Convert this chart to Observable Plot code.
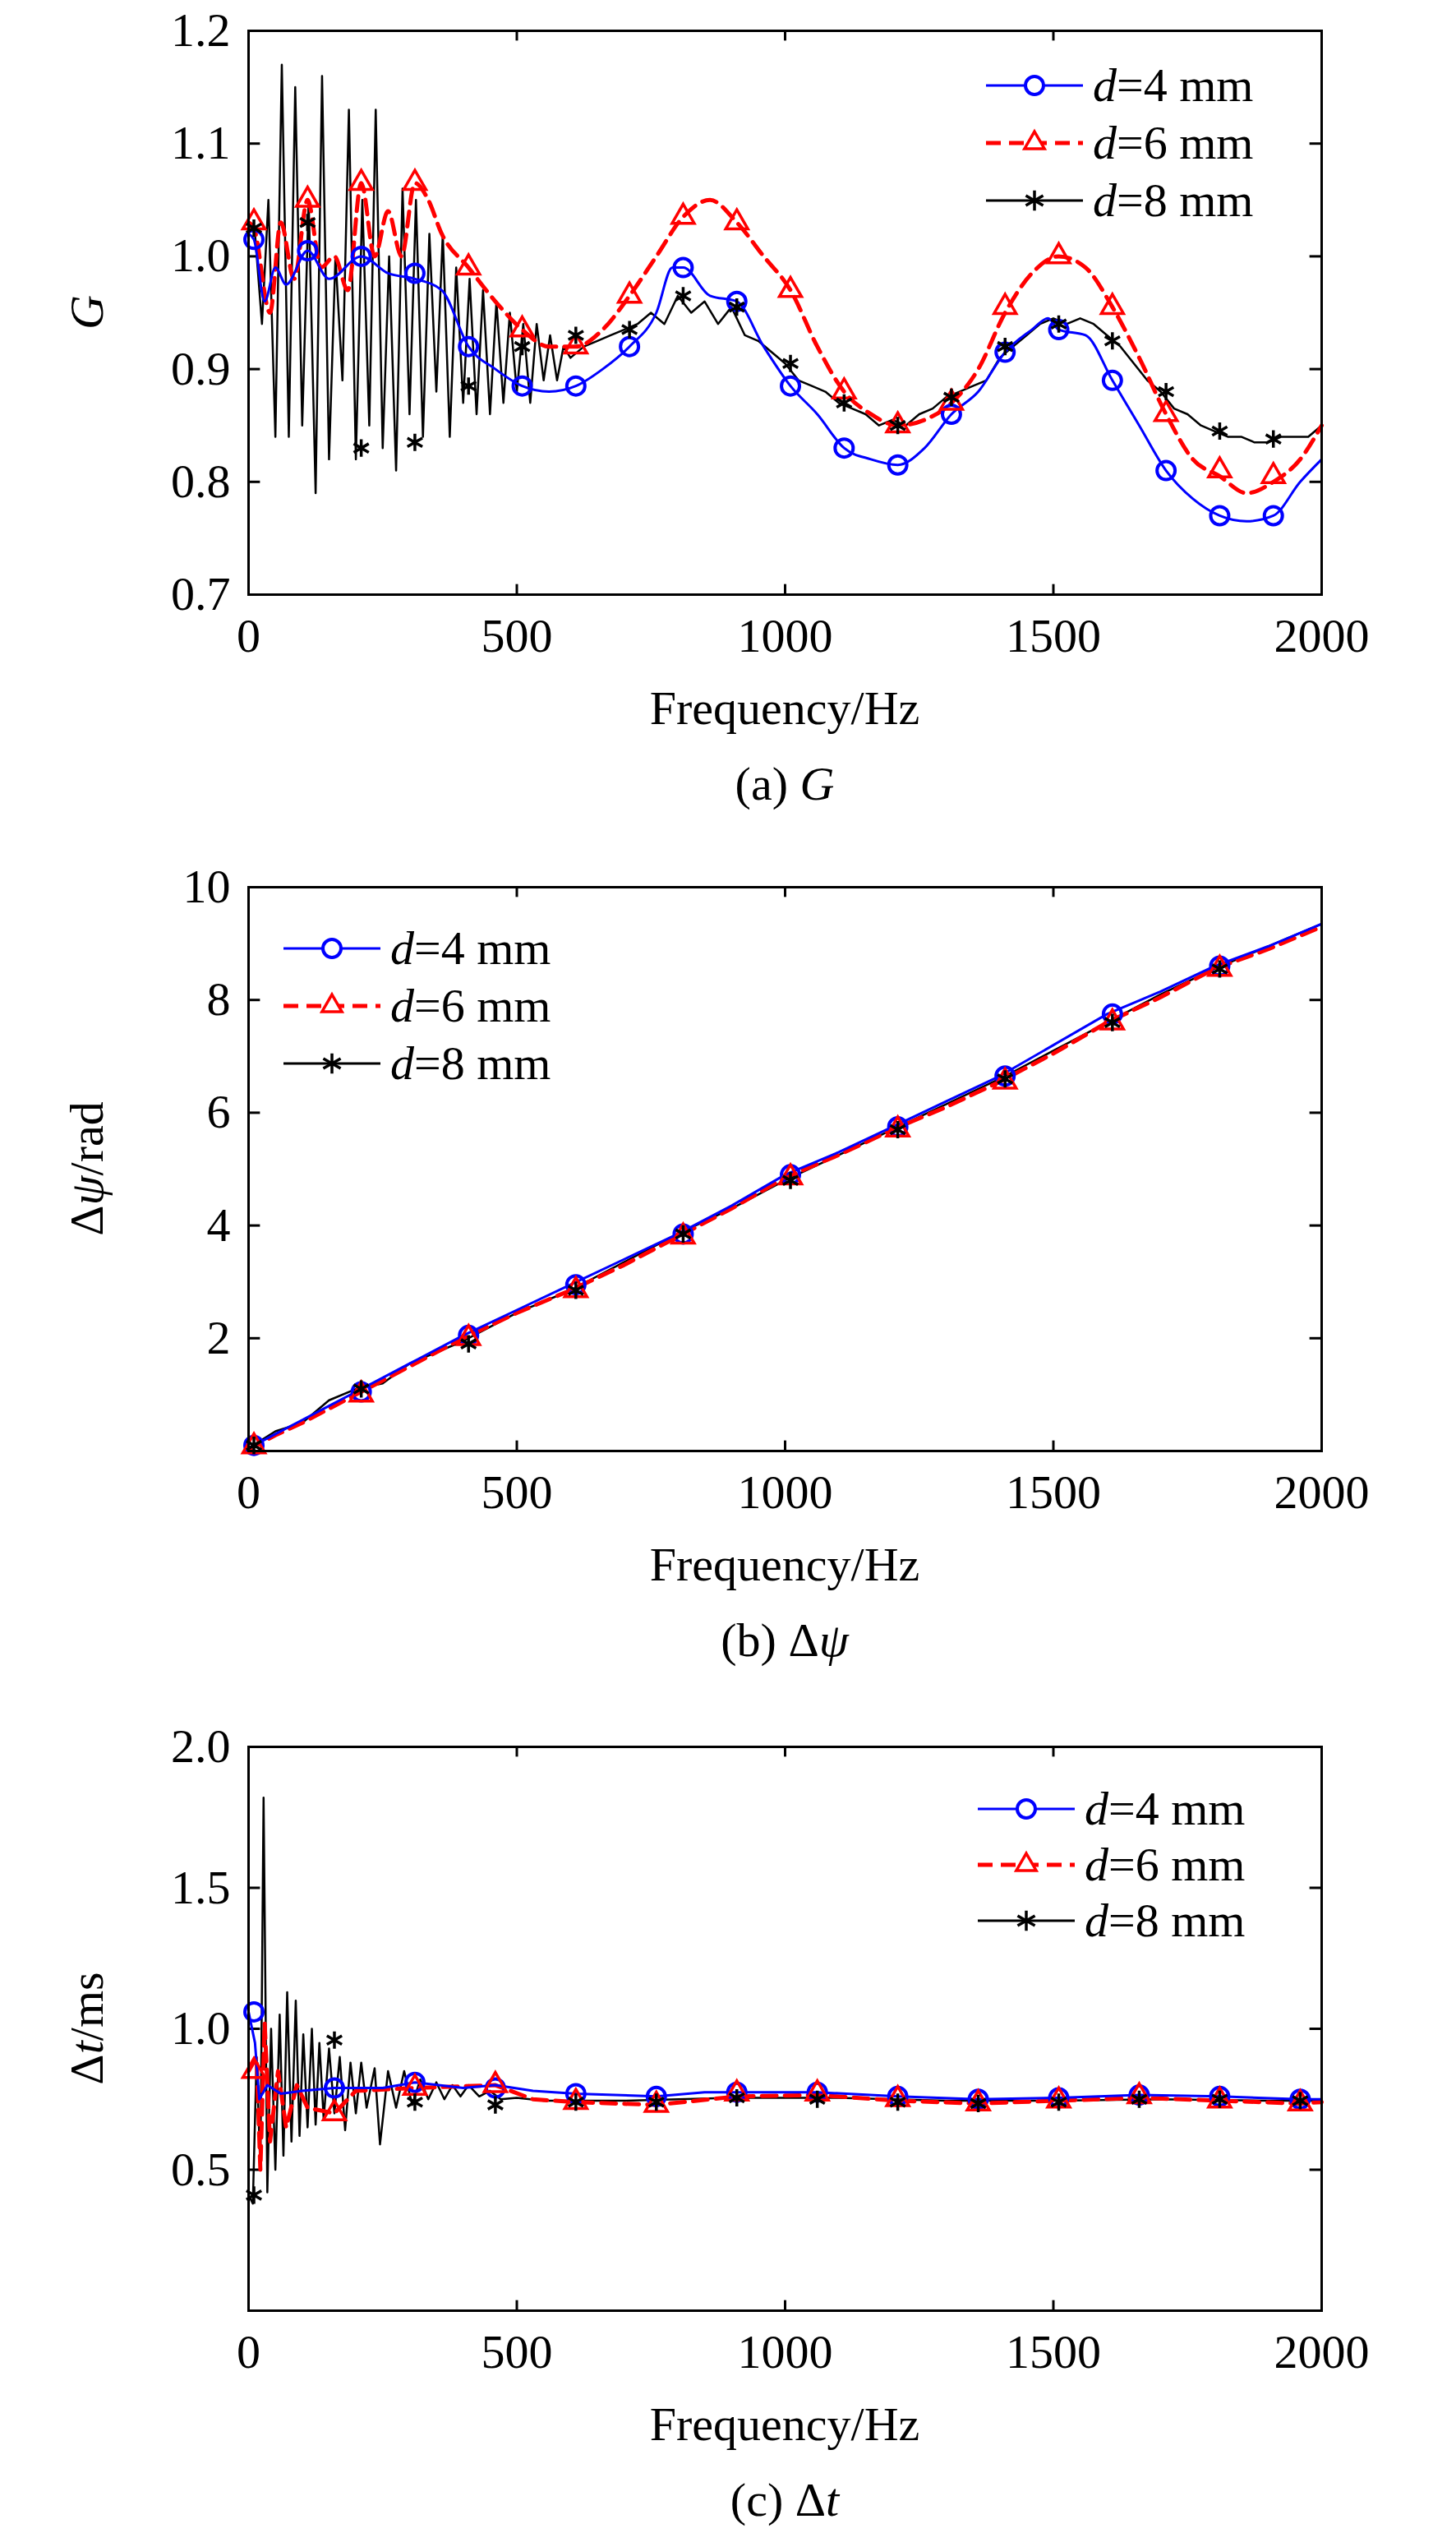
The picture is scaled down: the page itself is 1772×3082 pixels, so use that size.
<!DOCTYPE html>
<html><head><meta charset="utf-8">
<script src="https://cdn.jsdelivr.net/npm/d3@7"></script>
<script src="https://cdn.jsdelivr.net/npm/@observablehq/plot@0.6"></script>
<style>body{margin:0;background:#fff}svg{display:block}</style>
</head><body><div id="root"></div>
<script>
// ---------- Panel (a) G ----------
const aF4 = [0,10,30,50,70,110,150,210,260,310,360,410,460,510,560,610,660,710,760,790,810,860,910,960,1010,1060,1110,1160,1210,1260,1310,1360,1410,1460,1490,1510,1560,1610,1660,1710,1760,1810,1860,1910,1960,2000];
const aG4 = [1.02,1.015,0.96,0.99,0.975,1.005,0.98,1.0,0.985,0.98,0.97,0.92,0.90,0.885,0.88,0.885,0.90,0.92,0.95,0.99,0.99,0.965,0.96,0.92,0.885,0.86,0.83,0.82,0.815,0.83,0.86,0.88,0.915,0.935,0.945,0.935,0.93,0.89,0.85,0.81,0.785,0.77,0.765,0.77,0.80,0.82];
const aF6 = [0,10,40,60,85,110,135,160,185,210,235,260,285,310,335,360,410,460,510,560,610,660,710,760,810,860,910,960,1010,1060,1110,1160,1210,1260,1310,1360,1410,1460,1510,1560,1610,1660,1710,1760,1810,1860,1910,1960,2000];
const aG6 = [1.03,1.025,0.95,1.03,0.98,1.05,0.99,1.0,0.97,1.065,1.0,1.04,1.0,1.065,1.05,1.02,0.99,0.96,0.935,0.92,0.92,0.935,0.965,1.0,1.035,1.05,1.03,1.0,0.97,0.92,0.88,0.86,0.85,0.855,0.87,0.9,0.95,0.985,1.0,0.99,0.955,0.91,0.86,0.82,0.805,0.79,0.80,0.82,0.85];
const aF8 = [0,12,25,37,50,62,75,87,100,112,125,137,150,162,175,187,200,212,225,237,250,262,275,287,300,312,325,337,350,362,375,387,400,412,425,437,450,462,475,487,500,512,525,537,550,562,575,587,600,625,650,675,700,725,750,775,800,825,850,875,900,925,950,975,1000,1025,1050,1075,1100,1125,1150,1175,1200,1225,1250,1275,1300,1325,1350,1375,1400,1425,1450,1475,1500,1525,1550,1575,1600,1625,1650,1675,1700,1725,1750,1775,1800,1825,1850,1875,1900,1925,1950,1975,2000];
const aG8 = [1.03,1.02,0.94,1.05,0.84,1.17,0.84,1.15,0.85,1.05,0.79,1.16,0.82,1.0,0.89,1.13,0.82,1.05,0.85,1.13,0.83,1.0,0.81,1.06,0.86,1.05,0.84,1.02,0.88,1.02,0.84,0.99,0.87,0.98,0.86,0.97,0.86,0.96,0.87,0.95,0.88,0.94,0.87,0.94,0.89,0.93,0.89,0.92,0.91,0.92,0.925,0.93,0.935,0.94,0.95,0.94,0.965,0.95,0.96,0.94,0.955,0.93,0.925,0.915,0.905,0.89,0.885,0.88,0.87,0.865,0.86,0.85,0.855,0.85,0.86,0.865,0.875,0.88,0.885,0.89,0.91,0.92,0.93,0.94,0.945,0.94,0.945,0.94,0.93,0.92,0.905,0.89,0.88,0.865,0.86,0.85,0.845,0.84,0.84,0.835,0.835,0.84,0.84,0.84,0.85];
const aMF = [10,110,210,310,410,510,610,710,810,910,1010,1110,1210,1310,1410,1510,1610,1710,1810,1910];
const aM4 = [1.015,1.005,1.0,0.985,0.92,0.885,0.885,0.92,0.99,0.96,0.885,0.83,0.815,0.86,0.915,0.935,0.89,0.81,0.77,0.77];
const aM6 = [1.03,1.05,1.065,1.065,0.99,0.935,0.92,0.965,1.035,1.03,0.97,0.88,0.85,0.87,0.955,1.0,0.955,0.86,0.81,0.805];
const aM8 = [1.025,1.03,0.83,0.835,0.885,0.92,0.93,0.935,0.965,0.955,0.905,0.87,0.85,0.875,0.92,0.94,0.925,0.88,0.845,0.838];

// ---------- Panel (b) Δψ ----------
const bF = [0,50,100,150,200,250,300,400,500,600,700,800,900,1000,1100,1200,1300,1400,1500,1600,1700,1800,1900,2000];
const bP4 = [0.05,0.3,0.55,0.8,1.05,1.3,1.55,2.05,2.5,2.95,3.4,3.85,4.35,4.9,5.3,5.75,6.2,6.65,7.2,7.75,8.15,8.6,8.95,9.35];
const bP6 = [0.03,0.28,0.5,0.75,1.0,1.25,1.5,2.0,2.45,2.85,3.3,3.8,4.3,4.85,5.25,5.7,6.1,6.55,7.05,7.6,8.05,8.55,8.9,9.3];
const bP8 = [0.05,0.35,0.5,0.9,1.1,1.2,1.55,1.95,2.45,2.85,3.35,3.85,4.3,4.8,5.25,5.7,6.15,6.6,7.1,7.6,8.1,8.55,8.95,9.35];
const bMF = [10,210,410,610,810,1010,1210,1410,1610,1810];
const bM4 = [0.1,1.05,2.05,2.95,3.85,4.9,5.75,6.65,7.75,8.6];
const bM6 = [0.08,1.0,2.0,2.85,3.8,4.85,5.7,6.55,7.6,8.55];
const bM8 = [0.1,1.1,1.9,2.85,3.85,4.8,5.7,6.6,7.6,8.55];

// ---------- Panel (c) Δt ----------
const cF4 = [0,12,20,35,60,100,160,250,310,400,460,530,610,760,850,910,1060,1210,1360,1510,1660,1810,1960,2000];
const cT4 = [1.06,0.95,0.75,0.8,0.77,0.78,0.79,0.79,0.81,0.79,0.8,0.78,0.77,0.76,0.775,0.775,0.775,0.76,0.75,0.755,0.765,0.76,0.75,0.75];
const cF6 = [0,15,22,30,40,55,70,90,110,160,200,310,460,530,610,760,910,1060,1210,1360,1510,1660,1810,1960,2000];
const cT6 = [0.85,0.9,0.5,1.02,0.6,0.85,0.65,0.8,0.72,0.7,0.78,0.79,0.8,0.75,0.74,0.73,0.76,0.765,0.745,0.735,0.745,0.755,0.745,0.735,0.74];
const cF8 = [0,8,15,22,28,35,42,50,58,65,72,80,88,95,102,110,118,125,132,140,150,160,170,180,190,200,210,220,235,245,260,275,290,305,320,335,350,365,380,395,410,430,450,470,500,550,700,900,1100,1300,1500,1700,1900,2000];
const cT8 = [0.41,0.38,0.9,0.5,1.82,0.42,1.0,0.5,1.05,0.55,1.13,0.6,1.1,0.62,0.98,0.65,1.0,0.66,0.95,0.68,0.93,0.7,0.9,0.64,0.88,0.7,0.88,0.72,0.86,0.59,0.85,0.72,0.85,0.73,0.82,0.75,0.81,0.75,0.8,0.76,0.8,0.76,0.78,0.75,0.755,0.745,0.745,0.755,0.755,0.745,0.745,0.75,0.745,0.745];
const cMF = [10,160,310,460,610,760,910,1060,1210,1360,1510,1660,1810,1960];
const cM4 = [1.06,0.79,0.81,0.79,0.77,0.76,0.775,0.775,0.76,0.75,0.755,0.765,0.76,0.75];
const cM6 = [0.85,0.70,0.79,0.80,0.74,0.73,0.77,0.77,0.75,0.735,0.745,0.76,0.745,0.735];
const cM8 = [0.41,0.96,0.74,0.73,0.74,0.74,0.755,0.75,0.74,0.735,0.74,0.75,0.75,0.745];

const xTicks = [0,500,1000,1500,2000];
const FONT = "Liberation Serif, Times New Roman, serif";
const FS = 58;
const zip = (xs, ys) => xs.map((x,i)=>({x, y: ys[i]}));

function panel(o) {
  const W = 1772, mL = 302, mR = 1772-1608, plotH = 686;
  const [y0,y1] = o.yDomain;
  const ty = (y1-y0)*0.018, tx = 2000*0.011;
  const svg = Plot.plot({
    width: W, height: o.H,
    marginLeft: mL, marginRight: mR, marginTop: o.mT, marginBottom: o.H - o.mT - plotH,
    style: {fontFamily: FONT, fontSize: FS+"px", color: "#000", background: "#fff"},
    x: {domain: [0,2000]},
    y: {domain: o.yDomain},
    marks: [
      Plot.axisX(xTicks, {tickSize: 0, tickPadding: 28, label: null, fontSize: FS, tickFormat: d3.format("d")}),
      Plot.axisY(o.yTicks, {tickSize: 0, tickPadding: 22, label: null, fontSize: FS, tickFormat: o.fmt}),
      Plot.ruleX(xTicks.slice(1,-1), {x: d=>d, y1: y0, y2: y0+ty, strokeWidth: 3}),
      Plot.ruleX(xTicks.slice(1,-1), {x: d=>d, y1: y1, y2: y1-ty, strokeWidth: 3}),
      Plot.ruleY(o.yTicks.filter(v=>v>y0&&v<y1), {y: d=>d, x1: 0, x2: tx, strokeWidth: 3}),
      Plot.ruleY(o.yTicks.filter(v=>v>y0&&v<y1), {y: d=>d, x1: 2000, x2: 2000-tx, strokeWidth: 3}),
      Plot.line(o.l8, {x:"x", y:"y", stroke:"#000", strokeWidth: 2.5}),
      Plot.line(o.l6, {x:"x", y:"y", stroke:"#ff0000", strokeWidth: 5, strokeDasharray: "18,10", curve: o.curve||"linear"}),
      Plot.line(o.l4, {x:"x", y:"y", stroke:"#0000ff", strokeWidth: 3, curve: o.curve||"linear"}),
      Plot.dot(o.m4, {x:"x", y:"y", r: 11, stroke:"#0000ff", strokeWidth: 4, fill: "none"}),
      Plot.dot(o.m6, {x:"x", y:"y", r: 10, symbol:"triangle", stroke:"#ff0000", strokeWidth: 3.5, fill:"none"}),
      Plot.dot(o.m8, {x:"x", y:"y", r: 10, symbol:"asterisk", stroke:"#000", strokeWidth: 3.5}),
      Plot.frame({stroke:"#000", strokeWidth: 3})
    ]
  });
  const s = d3.select(svg);
  const cx = (mL + W - mR)/2, bot = o.mT + plotH;
  s.append("text").attr("x", cx).attr("y", bot+158).attr("text-anchor","middle")
    .attr("font-family", FONT).attr("font-size", FS).text("Frequency/Hz");
  const cap = s.append("text").attr("x", cx).attr("y", bot+250).attr("text-anchor","middle")
    .attr("font-family", FONT).attr("font-size", FS);
  o.caption.forEach(([t,it]) => cap.append("tspan").attr("font-style", it?"italic":"normal").text(t));
  const yl = s.append("text").attr("transform", `translate(${o.ylx},${o.mT+plotH/2}) rotate(-90)`)
    .attr("text-anchor","middle").attr("font-family", FONT).attr("font-size", FS);
  o.ylabel.forEach(([t,it]) => yl.append("tspan").attr("font-style", it?"italic":"normal").text(t));
  // legend
  const items = [["4","#0000ff",null,"circle"],["6","#ff0000","18,10","triangle"],["8","#000",null,"asterisk"]];
  items.forEach(([d,c,dash,sym],i) => {
    const y = o.leg.y + i*o.leg.dy, x0 = o.leg.x, x1 = o.leg.x + 118, xm = (x0+x1)/2;
    s.append("line").attr("x1",x0).attr("x2",x1).attr("y1",y).attr("y2",y).attr("stroke",c)
      .attr("stroke-width", dash?5:3).attr("stroke-dasharray", dash);
    if (sym==="circle") s.append("circle").attr("cx",xm).attr("cy",y).attr("r",11).attr("fill","#fff").attr("stroke",c).attr("stroke-width",4);
    else s.append("path").attr("transform",`translate(${xm},${y})`).attr("d", d3.symbol(sym==="triangle"?d3.symbolTriangle2:d3.symbolAsterisk, sym==="triangle"?420:420)())
      .attr("fill", sym==="triangle"?"#fff":"none").attr("stroke",c).attr("stroke-width",3.5);
    const t = s.append("text").attr("x", x1+12).attr("y", y+19).attr("text-anchor","start")
      .attr("font-family",FONT).attr("font-size",FS);
    t.append("tspan").attr("font-style","italic").text("d");
    t.append("tspan").text("="+d+" mm");
  });
  return svg;
}

const root = document.getElementById("root");
root.append(panel({
  H: 1040, mT: 37, yDomain: [0.7,1.2], yTicks: [0.7,0.8,0.9,1.0,1.1,1.2], fmt: d3.format(".1f"),
  l4: zip(aF4,aG4), l6: zip(aF6,aG6), l8: zip(aF8,aG8),
  m4: zip(aMF,aM4), m6: zip(aMF,aM6), m8: zip(aMF,aM8), curve: "monotone-x",
  caption: [["(a) ",false],["G",true]], ylabel: [["G",true]], ylx: 125,
  leg: {x: 1200, y: 104, dy: 70}
}));
root.append(panel({
  H: 1040, mT: 39, yDomain: [0,10], yTicks: [2,4,6,8,10], fmt: d3.format("d"),
  l4: zip(bF,bP4), l6: zip(bF,bP6), l8: zip(bF,bP8),
  m4: zip(bMF,bM4), m6: zip(bMF,bM6), m8: zip(bMF,bM8),
  caption: [["(b) Δ",false],["ψ",true]], ylabel: [["Δ",false],["ψ",true],["/rad",false]], ylx: 125,
  leg: {x: 345, y: 1154-1040, dy: 70}
}));
root.append(panel({
  H: 1002, mT: 45, yDomain: [0,2], yTicks: [0.5,1.0,1.5,2.0], fmt: d3.format(".1f"),
  l4: zip(cF4,cT4), l6: zip(cF6,cT6), l8: zip(cF8,cT8),
  m4: zip(cMF,cM4), m6: zip(cMF,cM6), m8: zip(cMF,cM8),
  caption: [["(c) Δ",false],["t",true]], ylabel: [["Δ",false],["t",true],["/ms",false]], ylx: 125,
  leg: {x: 1190, y: 2201-2080, dy: 68}
}));
</script></body></html>
